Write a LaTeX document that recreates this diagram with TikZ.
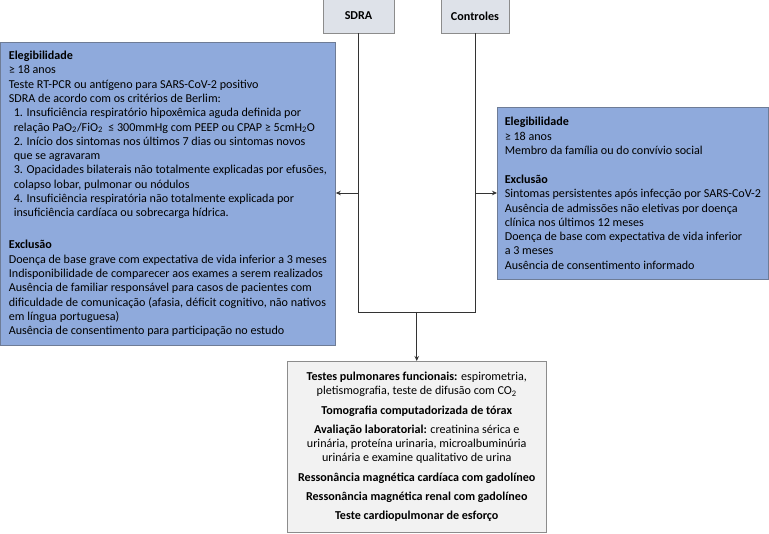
\documentclass[tikz,border=0pt]{standalone}
\usepackage{fontspec}
\setmainfont{Carlito}
\usetikzlibrary{arrows.meta,calc}
\definecolor{boxblue}{HTML}{8FAADC}
\definecolor{boxblueline}{HTML}{6E7C96}
\definecolor{topfill}{HTML}{DEE2E9}
\definecolor{greyline}{HTML}{8C8C8C}
\definecolor{botfill}{HTML}{F2F2F2}
\definecolor{connclr}{HTML}{333333}
\begin{document}
\begin{tikzpicture}[x=1pt,y=-1pt,
  txt/.style={font=\fontsize{12.1pt}{14.3pt}\selectfont, text=black},
  bluebox/.style={txt, draw=boxblueline, fill=boxblue, line width=0.8pt, align=left, inner sep=0pt, anchor=north west},
  topbox/.style={txt, draw=greyline, fill=topfill, line width=0.8pt, font=\fontsize{12.1pt}{14.3pt}\selectfont\bfseries, inner sep=0pt},
  botbox/.style={txt, draw=greyline, fill=botfill, line width=0.8pt, align=center, inner sep=0pt, anchor=north},
  conn/.style={draw=connclr, line width=0.8pt},
  arr/.style={conn, -{Stealth[length=5pt,width=4.5pt]}}
]
\useasboundingbox (0,0) rectangle (769,534);

\node[topbox, minimum width=71pt, minimum height=34pt] (sdra) at (358.5,16) {SDRA};
\node[topbox, minimum width=68pt, minimum height=34pt] (ctrl) at (475,16) {Controles};

\node[bluebox, minimum width=335pt, minimum height=303pt] (lbox) at (0,42) {%
\textbf{Elegibilidade}\\
≥ 18 anos\\
Teste RT-PCR ou antígeno para SARS-CoV-2 positivo\\
SDRA de acordo com os critérios de Berlim:\\
\hspace*{5pt}1. Insuficiência respiratório hipoxêmica aguda definida por\\
\hspace*{5pt}relação PaO\textsubscript{2}/FiO\textsubscript{2}\ \ ≤ 300mmHg com PEEP ou CPAP ≥ 5cmH\textsubscript{2}O\\
\hspace*{5pt}2. Início dos sintomas nos últimos 7 dias ou sintomas novos\\
\hspace*{5pt}que se agravaram\\
\hspace*{5pt}3. Opacidades bilaterais não totalmente explicadas por efusões,\\
\hspace*{5pt}colapso lobar, pulmonar ou nódulos\\
\hspace*{5pt}4. Insuficiência respiratória não totalmente explicada por\\
\hspace*{5pt}insuficiência cardíaca ou sobrecarga hídrica.\\[17.7pt]
\textbf{Exclusão}\\
Doença de base grave com expectativa de vida inferior a 3 meses\\
Indisponibilidade de comparecer aos exames a serem realizados\\
Ausência de familiar responsável para casos de pacientes com\\
dificuldade de comunicação (afasia, déficit cognitivo, não nativos\\
em língua portuguesa)\\
Ausência de consentimento para participação no estudo};

\node[bluebox, minimum width=271pt, minimum height=172pt] (rbox) at (497,107) {%
\textbf{Elegibilidade}\\
≥ 18 anos\\
Membro da família ou do convívio social\\[14.7pt]
\textbf{Exclusão}\\
Sintomas persistentes após infecção por SARS-CoV-2\\
Ausência de admissões não eletivas por doença\\
clínica nos últimos 12 meses\\
Doença de base com expectativa de vida inferior\\
a 3 meses\\
Ausência de consentimento informado};

\node[botbox, minimum width=259pt, minimum height=171pt] (tests) at (416.75,361) {%
\textbf{Testes pulmonares funcionais:} espirometria,\\
pletismografia, teste de difusão com CO\textsubscript{2}\\[5pt]
\textbf{Tomografia computadorizada de tórax}\\[5pt]
\textbf{Avaliação laboratorial:} creatinina sérica e\\
urinária, proteína urinaria, microalbuminúria\\
urinária e examine qualitativo de urina\\[5pt]
\textbf{Ressonância magnética cardíaca com gadolíneo}\\[5pt]
\textbf{Ressonância magnética renal com gadolíneo}\\[5pt]
\textbf{Teste cardiopulmonar de esforço}};

\coordinate (jl) at (358.5,312);
\coordinate (jr) at (475,312);
\coordinate (ml) at (358.5,193);
\coordinate (mr) at (475,193);

\draw[conn] (sdra.south) -- (jl) -- (jr) -- (ctrl.south);
\draw[arr] (ml) -- (ml -| lbox.east);
\draw[arr] (mr) -- (mr -| rbox.west);
\draw[arr] ($(jl)!0.5!(jr)$) -- (tests.north);
\end{tikzpicture}
\end{document}
